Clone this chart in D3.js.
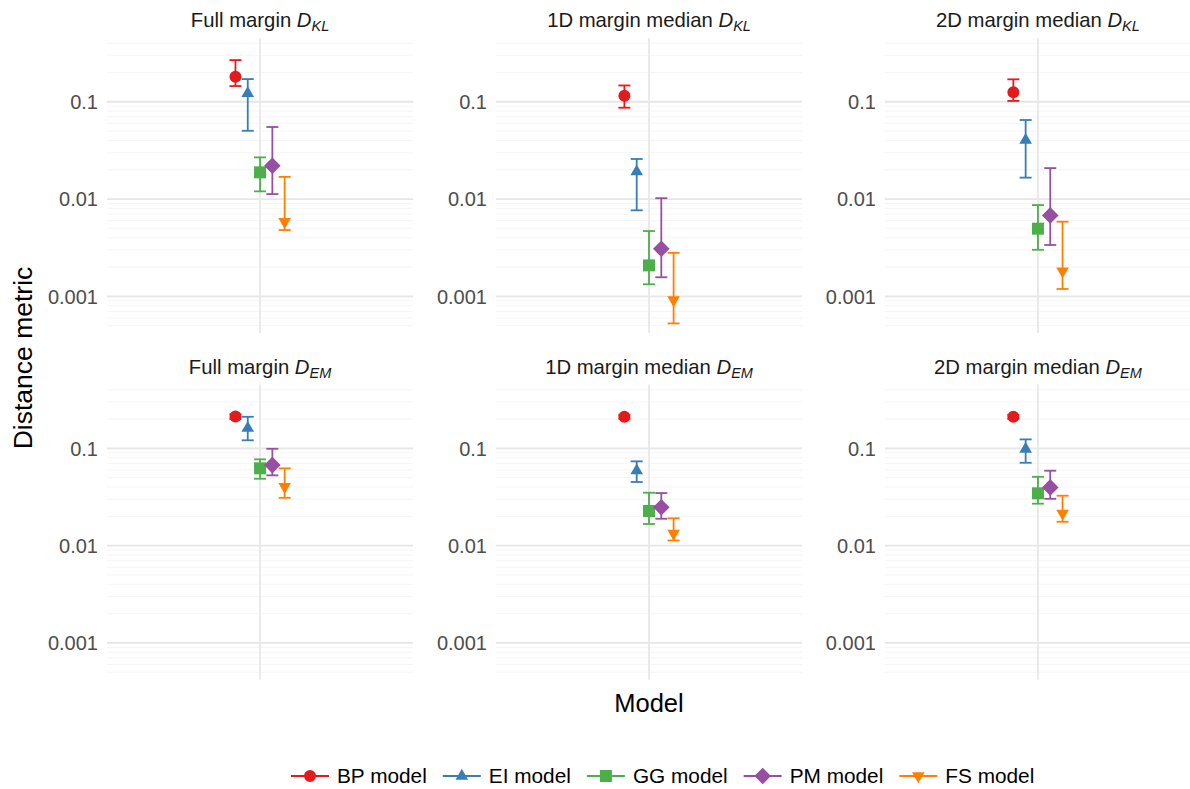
<!DOCTYPE html>
<html>
<head>
<meta charset="utf-8">
<script src="https://cdn.jsdelivr.net/npm/d3@7"></script>
<style>
  body { margin: 0; background: #fff; }
  text { font-family: "Liberation Sans", Arial, sans-serif; }
</style>
</head>
<body>
<div id="chart"></div>
<script>
// data
var panelNames = ["Full margin", "1D margin median", "2D margin median"];
var metricNames = ["KL", "EM"];
var models = ["BP model", "EI model", "GG model", "PM model", "FS model"];
var colors = ["#E41A1C", "#377EB8", "#4DAF4A", "#984EA3", "#FF7F00"];
var shapes = ["circle", "triangle", "square", "diamond", "triangleDown"];
var yTicks = [0.001, 0.01, 0.1];

// D_KL, one row per panel, one value per model
var estKL = [
  [0.181, 0.122, 0.0188, 0.0220, 0.00585],
  [0.115, 0.0191, 0.00208, 0.00308, 0.00092],
  [0.125, 0.0404, 0.00496, 0.00679, 0.00182]
];
var lowKL = [
  [0.145, 0.0503, 0.0120, 0.01125, 0.0048],
  [0.0868, 0.00766, 0.00133, 0.00157, 0.000527],
  [0.102, 0.0166, 0.00301, 0.00337, 0.00119]
];
var highKL = [
  [0.268, 0.171, 0.0268, 0.055, 0.0169],
  [0.147, 0.0258, 0.00469, 0.0102, 0.0028],
  [0.170, 0.0649, 0.00867, 0.0208, 0.00585]
];

// D_EM
var estEM = [
  [0.213, 0.161, 0.0623, 0.0673, 0.0404],
  [0.211, 0.0589, 0.0227, 0.0248, 0.01336],
  [0.211, 0.0984, 0.0345, 0.0397, 0.0215]
];
var lowEM = [
  [0.200, 0.121, 0.0487, 0.0528, 0.031],
  [0.201, 0.0451, 0.0167, 0.0189, 0.0113],
  [0.201, 0.0711, 0.027, 0.0303, 0.0176]
];
var highEM = [
  [0.224, 0.211, 0.0771, 0.099, 0.0623],
  [0.221, 0.0735, 0.035, 0.0347, 0.0191],
  [0.221, 0.1236, 0.051, 0.0589, 0.0326]
];

var width = 1190, height = 789;
var rowTop = [38, 384.6];
var panelH = 295;

var svg = d3.select("#chart").append("svg")
  .attr("width", width)
  .attr("height", height);

var col = d3.scaleBand()
  .domain(d3.range(3))
  .range([107, 1191])
  .paddingInner(0.213)
  .paddingOuter(0);

var dodge = d3.scalePoint()
  .domain(models)
  .range([-24.6, 24.6]);

var symbolPath = {
  circle: function() { return d3.symbol(d3.symbolCircle, 113)(); },
  triangle: function() { return "M0,-7.3L6.3,3.65L-6.3,3.65Z"; },
  square: function() { return "M-6,-6L6,-6L6,6L-6,6Z"; },
  diamond: function() { return "M0,-8.3L8.3,0L0,8.3L-8.3,0Z"; },
  triangleDown: function() { return "M0,7.3L6.3,-3.65L-6.3,-3.65Z"; }
};

var minorTicks = [];
for (var k = -4; k <= 0; k++) {
  for (var m = 2; m <= 9; m++) minorTicks.push(m * Math.pow(10, k));
}

var allData = [
  [estKL, lowKL, highKL],
  [estEM, lowEM, highEM]
];

metricNames.forEach(function(metric, r) {
  var y = d3.scaleLog()
    .domain([0.00042, 0.452])
    .range([rowTop[r] + panelH, rowTop[r]]);

  panelNames.forEach(function(name, c) {
    var x0 = col(c);
    var bw = col.bandwidth();
    var cx = x0 + bw / 2;
    var g = svg.append("g");

    // minor grid
    g.selectAll("line.minor")
      .data(minorTicks.filter(function(v) { return y(v) >= rowTop[r] && y(v) <= rowTop[r] + panelH; }))
      .join("line")
      .attr("x1", x0).attr("x2", x0 + bw)
      .attr("y1", d => y(d)).attr("y2", d => y(d))
      .attr("stroke", "#F4F4F4")
      .attr("stroke-width", 0.9);

    // major grid
    g.selectAll("line.major")
      .data(yTicks)
      .join("line")
      .attr("x1", x0).attr("x2", x0 + bw)
      .attr("y1", d => y(d)).attr("y2", d => y(d))
      .attr("stroke", "#E6E6E6")
      .attr("stroke-width", 1.8);

    g.append("line")
      .attr("x1", cx).attr("x2", cx)
      .attr("y1", rowTop[r]).attr("y2", rowTop[r] + panelH)
      .attr("stroke", "#E8E8E8")
      .attr("stroke-width", 1.8);

    // y tick labels
    g.selectAll("text.tick")
      .data(yTicks)
      .join("text")
      .attr("x", x0 - 9)
      .attr("y", d => y(d))
      .attr("dy", "0.36em")
      .attr("text-anchor", "end")
      .style("font-size", "20px")
      .style("fill", "#4D4D4D")
      .text(d => String(d));

    // strip title
    var t = svg.append("text")
      .attr("x", cx)
      .attr("y", rowTop[r] - 11)
      .attr("text-anchor", "middle")
      .style("font-size", "20.3px")
      .style("fill", "#1A1A1A");
    t.append("tspan").text(name + " ");
    t.append("tspan").style("font-style", "italic").text("D");
    t.append("tspan").style("font-style", "italic").style("font-size", "14.5px")
      .attr("dy", 4).text(metric);

    var est = allData[r][0][c], low = allData[r][1][c], high = allData[r][2][c];
    var rows = models.map(function(mdl, i) {
      return { model: mdl, i: i, est: est[i], low: low[i], high: high[i] };
    });

    var bars = g.selectAll("g.bar")
      .data(rows)
      .join("g")
      .attr("stroke", d => colors[d.i])
      .attr("stroke-width", 1.8)
      .attr("fill", "none");

    bars.append("line")
      .attr("x1", d => cx + dodge(d.model)).attr("x2", d => cx + dodge(d.model))
      .attr("y1", d => y(d.low)).attr("y2", d => y(d.high));
    bars.append("line")
      .attr("x1", d => cx + dodge(d.model) - 6).attr("x2", d => cx + dodge(d.model) + 6)
      .attr("y1", d => y(d.low)).attr("y2", d => y(d.low));
    bars.append("line")
      .attr("x1", d => cx + dodge(d.model) - 6).attr("x2", d => cx + dodge(d.model) + 6)
      .attr("y1", d => y(d.high)).attr("y2", d => y(d.high));

    g.selectAll("path.pt")
      .data(rows)
      .join("path")
      .attr("transform", d => "translate(" + (cx + dodge(d.model)) + "," + y(d.est) + ")")
      .attr("d", d => symbolPath[shapes[d.i]]())
      .attr("fill", d => colors[d.i]);
  });
});

// axis titles
svg.append("text")
  .attr("x", 649)
  .attr("y", 712)
  .attr("text-anchor", "middle")
  .style("font-size", "25.5px")
  .style("fill", "#000")
  .text("Model");

svg.append("text")
  .attr("transform", "translate(32,358)rotate(-90)")
  .attr("text-anchor", "middle")
  .style("font-size", "26.5px")
  .style("fill", "#000")
  .text("Distance metric");

// legend
var lx = 291, ly = 776;
models.forEach(function(mdl, i) {
  var lg = svg.append("g");
  lg.append("line")
    .attr("x1", lx).attr("x2", lx + 38)
    .attr("y1", ly).attr("y2", ly)
    .attr("stroke", colors[i])
    .attr("stroke-width", 1.8);
  lg.append("path")
    .attr("transform", "translate(" + (lx + 19) + "," + ly + ")")
    .attr("d", symbolPath[shapes[i]]())
    .attr("fill", colors[i]);
  var txt = lg.append("text")
    .attr("x", lx + 46)
    .attr("y", ly + 7)
    .style("font-size", "20.8px")
    .style("fill", "#000")
    .text(mdl);
  lx = lx + 46 + txt.node().getComputedTextLength() + 16;
});
</script>
</body>
</html>
